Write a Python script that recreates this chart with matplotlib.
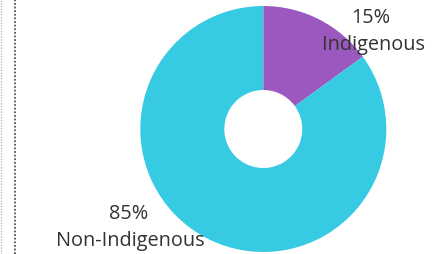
import matplotlib
matplotlib.use("Agg")
import matplotlib.pyplot as plt

categories = ["Indigenous", "Non-Indigenous"]
values = [15, 85]
colors = ["#9b59bf", "#37cae3"]

W, H = 438, 254
fig = plt.figure(figsize=(W / 100, H / 100), dpi=100)
ax = fig.add_axes([0, 0, 1, 1])

cx, cy, r = 263.3, H - 129, 123
ax.pie(values, colors=colors, startangle=90, counterclock=False,
       center=(cx, cy), radius=r, wedgeprops=dict(width=r * 0.683, linewidth=0),
       frame=True)
ax.set_xlim(0, W)
ax.set_ylim(0, H)
ax.set_aspect("equal")
ax.axis("off")

font = "Open Sans"
fs = 14.3
tc = "#333333"
ax.text(371, H - 18, f"{values[0]}%", ha="center", va="center", fontsize=fs,
        color=tc, family=font)
ax.text(373, H - 45, categories[0], ha="center", va="center", fontsize=fs,
        color=tc, family=font)
ax.text(129, H - 214, f"{values[1]}%", ha="center", va="center", fontsize=fs,
        color=tc, family=font)
ax.text(130, H - 241, categories[1], ha="center", va="center", fontsize=fs,
        color=tc, family=font)

ax.axvline(0.5, color="#bbbbbb", linestyle=(0, (1, 1)), linewidth=1)
ax.axvline(15, color="#555555", linestyle=(0, (1, 1)), linewidth=1.3)

fig.savefig("out.png", dpi=100)
